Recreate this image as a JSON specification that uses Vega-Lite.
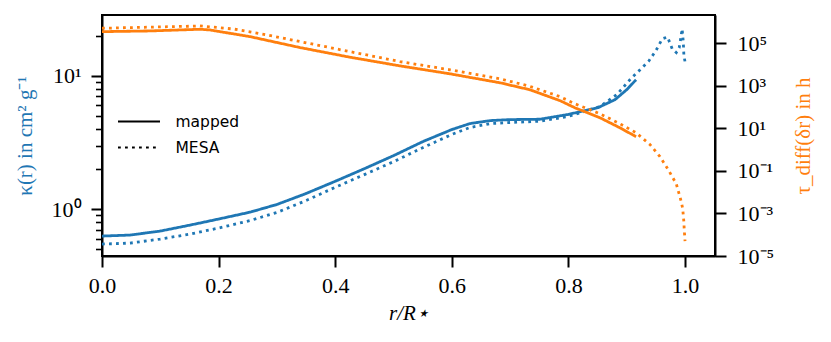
{
  "$schema": "https://vega.github.io/schema/vega-lite/v6.json",
  "width": 613,
  "height": 241,
  "autosize": {"type": "none"},
  "padding": {"left": 102, "top": 15, "right": 116, "bottom": 86},
  "background": "white",
  "config": {
    "view": {"stroke": "black", "strokeWidth": 2},
    "axis": {
      "grid": false,
      "domainColor": "black",
      "domainWidth": 2,
      "tickColor": "black",
      "tickWidth": 2,
      "tickSize": 11,
      "labelFont": "Liberation Serif",
      "labelFontSize": 22,
      "labelColor": "black",
      "titleFont": "Liberation Serif",
      "titleFontSize": 21,
      "titleFontWeight": "normal"
    }
  },
  "datasets": {
    "kappa": [
      {"r": 0.0, "kappa": 0.629, "source": "mapped"},
      {"r": 0.048, "kappa": 0.640, "source": "mapped"},
      {"r": 0.0995, "kappa": 0.685, "source": "mapped"},
      {"r": 0.151, "kappa": 0.760, "source": "mapped"},
      {"r": 0.199, "kappa": 0.842, "source": "mapped"},
      {"r": 0.254, "kappa": 0.950, "source": "mapped"},
      {"r": 0.300, "kappa": 1.085, "source": "mapped"},
      {"r": 0.348, "kappa": 1.300, "source": "mapped"},
      {"r": 0.400, "kappa": 1.618, "source": "mapped"},
      {"r": 0.451, "kappa": 2.02, "source": "mapped"},
      {"r": 0.501, "kappa": 2.53, "source": "mapped"},
      {"r": 0.551, "kappa": 3.22, "source": "mapped"},
      {"r": 0.600, "kappa": 3.95, "source": "mapped"},
      {"r": 0.631, "kappa": 4.38, "source": "mapped"},
      {"r": 0.666, "kappa": 4.61, "source": "mapped"},
      {"r": 0.700, "kappa": 4.69, "source": "mapped"},
      {"r": 0.751, "kappa": 4.72, "source": "mapped"},
      {"r": 0.799, "kappa": 5.12, "source": "mapped"},
      {"r": 0.851, "kappa": 5.77, "source": "mapped"},
      {"r": 0.880, "kappa": 6.62, "source": "mapped"},
      {"r": 0.900, "kappa": 7.86, "source": "mapped"},
      {"r": 0.916, "kappa": 9.33, "source": "mapped"},
      {"r": 0.0, "kappa": 0.548, "source": "MESA"},
      {"r": 0.048, "kappa": 0.557, "source": "MESA"},
      {"r": 0.0995, "kappa": 0.597, "source": "MESA"},
      {"r": 0.151, "kappa": 0.651, "source": "MESA"},
      {"r": 0.199, "kappa": 0.721, "source": "MESA"},
      {"r": 0.254, "kappa": 0.822, "source": "MESA"},
      {"r": 0.300, "kappa": 0.945, "source": "MESA"},
      {"r": 0.348, "kappa": 1.150, "source": "MESA"},
      {"r": 0.400, "kappa": 1.459, "source": "MESA"},
      {"r": 0.451, "kappa": 1.824, "source": "MESA"},
      {"r": 0.501, "kappa": 2.28, "source": "MESA"},
      {"r": 0.551, "kappa": 2.90, "source": "MESA"},
      {"r": 0.600, "kappa": 3.63, "source": "MESA"},
      {"r": 0.631, "kappa": 4.09, "source": "MESA"},
      {"r": 0.666, "kappa": 4.38, "source": "MESA"},
      {"r": 0.700, "kappa": 4.46, "source": "MESA"},
      {"r": 0.751, "kappa": 4.56, "source": "MESA"},
      {"r": 0.799, "kappa": 4.94, "source": "MESA"},
      {"r": 0.854, "kappa": 5.87, "source": "MESA"},
      {"r": 0.883, "kappa": 7.22, "source": "MESA"},
      {"r": 0.907, "kappa": 9.5, "source": "MESA"},
      {"r": 0.923, "kappa": 11.1, "source": "MESA"},
      {"r": 0.938, "kappa": 12.9, "source": "MESA"},
      {"r": 0.950, "kappa": 15.4, "source": "MESA"},
      {"r": 0.961, "kappa": 18.9, "source": "MESA"},
      {"r": 0.970, "kappa": 19.5, "source": "MESA"},
      {"r": 0.978, "kappa": 15.9, "source": "MESA"},
      {"r": 0.985, "kappa": 14.9, "source": "MESA"},
      {"r": 0.990, "kappa": 16.2, "source": "MESA"},
      {"r": 0.993, "kappa": 19.5, "source": "MESA"},
      {"r": 0.995, "kappa": 22.4, "source": "MESA"},
      {"r": 0.997, "kappa": 17.9, "source": "MESA"},
      {"r": 0.998, "kappa": 14.3, "source": "MESA"},
      {"r": 1.0, "kappa": 12.7, "source": "MESA"}
    ],
    "tau": [
      {"r": 0.0, "tau": 350000, "source": "mapped"},
      {"r": 0.082, "tau": 378000, "source": "mapped"},
      {"r": 0.168, "tau": 453000, "source": "mapped"},
      {"r": 0.185, "tau": 420000, "source": "mapped"},
      {"r": 0.254, "tau": 204000, "source": "mapped"},
      {"r": 0.340, "tau": 62200, "source": "mapped"},
      {"r": 0.425, "tau": 22100, "source": "mapped"},
      {"r": 0.511, "tau": 8630, "source": "mapped"},
      {"r": 0.597, "tau": 3640, "source": "mapped"},
      {"r": 0.683, "tau": 1380, "source": "mapped"},
      {"r": 0.734, "tau": 649, "source": "mapped"},
      {"r": 0.786, "tau": 198, "source": "mapped"},
      {"r": 0.811, "tau": 92.9, "source": "mapped"},
      {"r": 0.854, "tau": 31.6, "source": "mapped"},
      {"r": 0.888, "tau": 10.7, "source": "mapped"},
      {"r": 0.916, "tau": 4.06, "source": "mapped"},
      {"r": 0.0, "tau": 505000, "source": "MESA"},
      {"r": 0.168, "tau": 647000, "source": "MESA"},
      {"r": 0.225, "tau": 468000, "source": "MESA"},
      {"r": 0.283, "tau": 245000, "source": "MESA"},
      {"r": 0.340, "tau": 119000, "source": "MESA"},
      {"r": 0.425, "tau": 40400, "source": "MESA"},
      {"r": 0.511, "tau": 13700, "source": "MESA"},
      {"r": 0.597, "tau": 5610, "source": "MESA"},
      {"r": 0.683, "tau": 2120, "source": "MESA"},
      {"r": 0.734, "tau": 940, "source": "MESA"},
      {"r": 0.786, "tau": 305, "source": "MESA"},
      {"r": 0.811, "tau": 143, "source": "MESA"},
      {"r": 0.854, "tau": 48.7, "source": "MESA"},
      {"r": 0.888, "tau": 16.5, "source": "MESA"},
      {"r": 0.916, "tau": 6.25, "source": "MESA"},
      {"r": 0.940, "tau": 1.71, "source": "MESA"},
      {"r": 0.957, "tau": 0.47, "source": "MESA"},
      {"r": 0.971, "tau": 0.116, "source": "MESA"},
      {"r": 0.985, "tau": 0.0247, "source": "MESA"},
      {"r": 0.988, "tau": 0.0124, "source": "MESA"},
      {"r": 0.991, "tau": 0.00649, "source": "MESA"},
      {"r": 0.994, "tau": 0.00318, "source": "MESA"},
      {"r": 0.996, "tau": 0.00166, "source": "MESA"},
      {"r": 0.997, "tau": 0.000834, "source": "MESA"},
      {"r": 0.998, "tau": 0.000409, "source": "MESA"},
      {"r": 0.9985, "tau": 0.000205, "source": "MESA"},
      {"r": 0.9992, "tau": 0.000104, "source": "MESA"},
      {"r": 1.0, "tau": 0.0000505, "source": "MESA"}
    ]
  },
  "layer": [
    {
      "data": {"name": "kappa"},
      "mark": {"type": "line", "strokeWidth": 2.8, "color": "#1f77b4", "strokeCap": "butt"},
      "encoding": {
        "x": {
          "field": "r", "type": "quantitative",
          "scale": {"domain": [0, 1.0514], "nice": false, "zero": false},
          "axis": {
            "values": [0, 0.2, 0.4, 0.6, 0.8, 1.0],
            "format": ".1f",
            "labelFlush": false,
            "labelPadding": 8,
            "title": "r/R⋆",
            "titleFontStyle": "italic",
            "titlePadding": 6
          }
        },
        "y": {
          "field": "kappa", "type": "quantitative",
          "scale": {"type": "log", "domain": [0.446, 28.5], "nice": false},
          "axis": {
            "values": [0.5, 0.6, 0.7, 0.8, 0.9, 1, 2, 3, 4, 5, 6, 7, 8, 9, 10, 20],
            "labelExpr": "datum.value == 1 ? '10⁰' : datum.value == 10 ? '10¹' : ''",
            "labelOverlap": false,
            "labelPadding": 10,
            "tickSize": {"condition": {"test": "datum.value == 1 || datum.value == 10", "value": 11}, "value": 6.5},
            "tickWidth": {"condition": {"test": "datum.value == 1 || datum.value == 10", "value": 2}, "value": 1.6},
            "title": "κ(r) in cm² g⁻¹",
            "titleColor": "#1f77b4",
            "titlePadding": 16
          }
        },
        "strokeDash": {
          "field": "source", "type": "nominal",
          "scale": {"domain": ["mapped", "MESA"], "range": [[1, 0], [2.8, 4.2]]},
          "legend": {
            "orient": "none",
            "legendX": 7.5,
            "legendY": 98,
            "title": null,
            "padding": 0,
            "symbolType": "M-3,0H3",
            "symbolSize": 196,
            "symbolStrokeColor": "black",
            "symbolStrokeWidth": 2.2,
            "symbolOffset": 21,
            "labelOffset": 28,
            "labelFont": "DejaVu Sans",
            "labelFontSize": 15.5,
            "labelColor": "black",
            "rowPadding": 9,
            "encode": {
              "symbols": {"update": {"stroke": {"value": "black"}, "fill": {"value": "transparent"}}}
            }
          }
        }
      }
    },
    {
      "data": {"name": "tau"},
      "mark": {"type": "line", "strokeWidth": 2.8, "color": "#ff7f0e", "strokeCap": "butt"},
      "encoding": {
        "x": {"field": "r", "type": "quantitative"},
        "y": {
          "field": "tau", "type": "quantitative",
          "scale": {"type": "log", "domain": [0.00001, 2120000], "nice": false},
          "axis": {
            "orient": "right",
            "values": [0.00001, 0.001, 0.1, 10, 1000, 100000],
            "labelExpr": "round(log(datum.value)/LN10) == 5 ? '10⁵' : round(log(datum.value)/LN10) == 3 ? '10³' : round(log(datum.value)/LN10) == 1 ? '10¹' : round(log(datum.value)/LN10) == -1 ? '10⁻¹' : round(log(datum.value)/LN10) == -3 ? '10⁻³' : '10⁻⁵'",
            "labelOverlap": false,
            "labelPadding": 11,
            "title": "τ_diff(δr) in h",
            "titleColor": "#ff7f0e",
            "titleAngle": 270,
            "titlePadding": 40
          }
        },
        "strokeDash": {"field": "source", "type": "nominal"}
      }
    }
  ],
  "resolve": {"scale": {"y": "independent"}}
}
